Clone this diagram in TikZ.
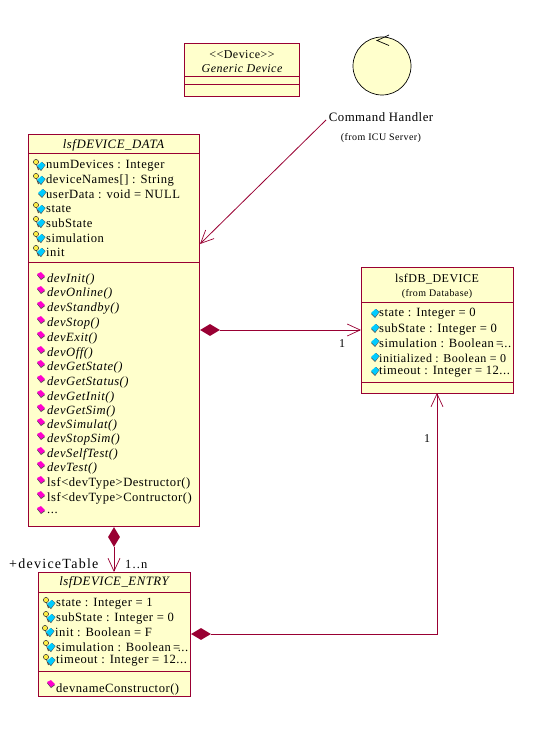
\documentclass[tikz,border=0pt]{standalone}
\usepackage{fontspec}
\setmainfont[LetterSpace=4]{Liberation Serif}
\newfontfamily\widefont[LetterSpace=9]{Liberation Serif}
\usetikzlibrary{shapes.geometric,arrows.meta}
\definecolor{umlline}{HTML}{990033}
\definecolor{umlfill}{HTML}{FFFFCC}
\definecolor{umlblue}{HTML}{00CCFF}
\definecolor{umlpink}{HTML}{FF00CC}
\definecolor{umlkey}{HTML}{FFEE44}
\tikzset{
  x=1pt,y=-1pt,
  umlbox/.style={draw=umlline,fill=umlfill,line width=1pt,rectangle,inner sep=0pt,anchor=north west},
  member/.style={anchor=west,inner sep=0pt,yshift=-1pt,font=\fontsize{12.6}{12.6}\selectfont},
  small/.style={inner sep=0pt,font=\fontsize{12}{12}\selectfont},
  title/.style={inner sep=0pt,font=\fontsize{12.8}{12.8}\selectfont},
  tiny/.style={inner sep=0pt,font=\fontsize{10}{10}\selectfont},
  rolelabel/.style={inner sep=0pt,font=\widefont\fontsize{14}{14}\selectfont},
  countlabel/.style={inner sep=0pt,font=\widefont\fontsize{12.5}{12.5}\selectfont},
  assoc/.style={draw=umlline,line width=1pt},
  openhead/.style={-{Straight Barb[length=13pt,width=12pt,line width=0.7pt]}},
  divider/.style={draw=umlline,line width=1pt},
  holder/.style={diamond,draw=none,fill=umlline,inner sep=0pt},
}
\newcommand{\umlblueicon}[2]{%
  \fill[black!70] (#1-4,#2+1)--(#1,#2+5)--(#1+4.5,#2-1)--(#1+1,#2-4)--cycle;
  \fill[umlblue] (#1-4,#2)--(#1,#2+4)--(#1+4,#2-1)--(#1+0.5,#2-4)--cycle;}
\newcommand{\umlpinkicon}[2]{%
  \fill[black!70] (#1-4,#2-1)--(#1,#2+4)--(#1+4,#2+1)--(#1,#2-3)--cycle;
  \fill[umlpink] (#1-4,#2-2)--(#1,#2+3)--(#1+4,#2)--(#1,#2-4)--cycle;}
\newcommand{\umlkeyicon}[2]{%
  \draw[black!80,line width=0.5pt,fill=umlkey] (#1,#2-3) circle (2.6);
  \draw[black!80,line width=0.8pt] (#1+0.5,#2-0.5) -- (#1+2.5,#2+5) (#1+1.5,#2+3) -- (#1+3.5,#2+2.5);}
\newcommand{\attrK}[4]{\umlkeyicon{#2-10}{#3}\umlblueicon{#2-5}{#3+1}\node[member] (#1) at (#2,#3) {#4};}
\newcommand{\attrB}[4]{\umlblueicon{#2-4}{#3}\node[member] (#1) at (#2,#3) {#4};}
\newcommand{\oper}[4]{\umlpinkicon{#2-6}{#3-2}\node[member] (#1) at (#2,#3) {#4};}
\newcommand{\tighttail}{\kern-1.5pt\ =\kern-2.5pt...}
\begin{document}
\begin{tikzpicture}
\useasboundingbox (0,0) rectangle (542,730);
\fill[white] (0,0) rectangle (542,730);
% Generic Device
\node[umlbox,minimum width=115pt,minimum height=53pt] (generic) at (184,43) {};
\draw[divider] (184,77) -- (299,77) (184,85) -- (299,85);
\node[small] (genericS) at (242,55) {<{}<Device>{}>};
\node[small] (genericN) at (242,69) {\itshape Generic Device};
% Command Handler
\node[circle,draw=black,fill=umlfill,line width=0.7pt,minimum size=58pt,inner sep=0pt] (handler) at (382,66) {};
\draw[black,line width=0.7pt] (389,35) -- (377,40.5) -- (389,45.5);
\node[title] (handlerL) at (381,117) {Command Handler};
\node[tiny] (handlerF) at (381,138) {(from ICU Server)};
% DEVICE_DATA
\node[umlbox,minimum width=171pt,minimum height=392pt] (data) at (28,134) {};
\draw[divider] (28,154) -- (199,154) (28,262) -- (199,262);
\node[title] (dataT) at (113.5,145) {\itshape lsfDEVICE\_DATA};
\attrK{a1}{46}{165}{numDevices : Integer}
\attrK{a2}{46}{179}{deviceNames[] : String}
\attrB{a3}{46}{193}{userData : void = NULL}
\attrK{a4}{46}{208}{state}
\attrK{a5}{46}{222}{subState}
\attrK{a6}{46}{237}{simulation}
\attrK{a7}{46}{251}{init}
\oper{o1}{47}{278}{\itshape devInit()}
\oper{o2}{47}{292}{\itshape devOnline()}
\oper{o3}{47}{307}{\itshape devStandby()}
\oper{o4}{47}{322}{\itshape devStop()}
\oper{o5}{47}{337}{\itshape devExit()}
\oper{o6}{47}{352}{\itshape devOff()}
\oper{o7}{47}{366}{\itshape devGetState()}
\oper{o8}{47}{381}{\itshape devGetStatus()}
\oper{o9}{47}{396}{\itshape devGetInit()}
\oper{o10}{47}{410}{\itshape devGetSim()}
\oper{o11}{47}{424}{\itshape devSimulat()}
\oper{o12}{47}{438}{\itshape devStopSim()}
\oper{o13}{47}{453}{\itshape devSelfTest()}
\oper{o14}{47}{467}{\itshape devTest()}
\oper{o15}{47}{482}{lsf<devType>Destructor()}
\oper{o16}{47}{497}{lsf<devType>Contructor()}
\oper{o17}{47}{512}{...}
% DB_DEVICE
\node[umlbox,minimum width=152pt,minimum height=126pt] (db) at (361,267) {};
\draw[divider] (361,302) -- (513,302) (361,382) -- (513,382);
\node[small] (dbT) at (437,279) {lsfDB\_DEVICE};
\node[tiny] (dbF) at (437,294) {(from Database)};
\attrB{b1}{379}{313}{state : Integer = 0}
\attrB{b2}{379}{328}{subState : Integer = 0}
\attrB{b3}{379}{342}{simulation : Boolean\tighttail}
\attrB{b4}{379}{357}{\fontsize{12}{12}\selectfont initialized : Boolean = 0}
\attrB{b5}{379}{371}{timeout : Integer = 12...}
% DEVICE_ENTRY
\node[umlbox,minimum width=152pt,minimum height=124pt] (entry) at (38,572) {};
\draw[divider] (38,592) -- (190,592) (38,671) -- (190,671);
\node[title] (entryT) at (114,582) {\itshape lsfDEVICE\_ENTRY};
\attrK{e1}{56}{603}{state : Integer = 1}
\attrK{e2}{56}{617}{subState : Integer = 0}
\attrK{e3}{55}{631}{init : Boolean = F}
\attrK{e4}{56}{646}{simulation : Boolean\tighttail}
\attrK{e5}{56}{660}{timeout : Integer = 12...}
\umlpinkicon{51}{684}
\node[member] (e6) at (56,688) {devnameConstructor()};
% connectors
\coordinate (hfoot) at (326,120);
\coordinate (dataIn) at (data.east |- 0,244);
\draw[assoc,openhead,line width=0.8pt] (hfoot) -- (dataIn);
\coordinate (dbIn) at (db.west |- 0,330);
\node[holder,minimum width=20pt,minimum height=12pt] (d1) at (210,330) {};
\draw[assoc,openhead] (d1.east) -- (dbIn);
\node[holder,minimum width=12pt,minimum height=20pt] (d2) at (114,537) {};
\coordinate (entryIn) at (d2 |- entry.north);
\draw[assoc,openhead] (d2.south) -- (entryIn);
\node[holder,minimum width=20pt,minimum height=12pt] (d3) at (201,634) {};
\coordinate (dbBot) at (437,393);
\draw[assoc,openhead] (d3.east) -- (437,634) -- (dbBot);
% labels
\node[small] (l1) at (342,344) {1};
\node[small] (l2) at (427,439) {1};
\node[rolelabel,anchor=west] (l3) at (9,564) {+deviceTable};
\node[countlabel,anchor=west] (l4) at (125,564) {1..n};
\end{tikzpicture}
\end{document}
